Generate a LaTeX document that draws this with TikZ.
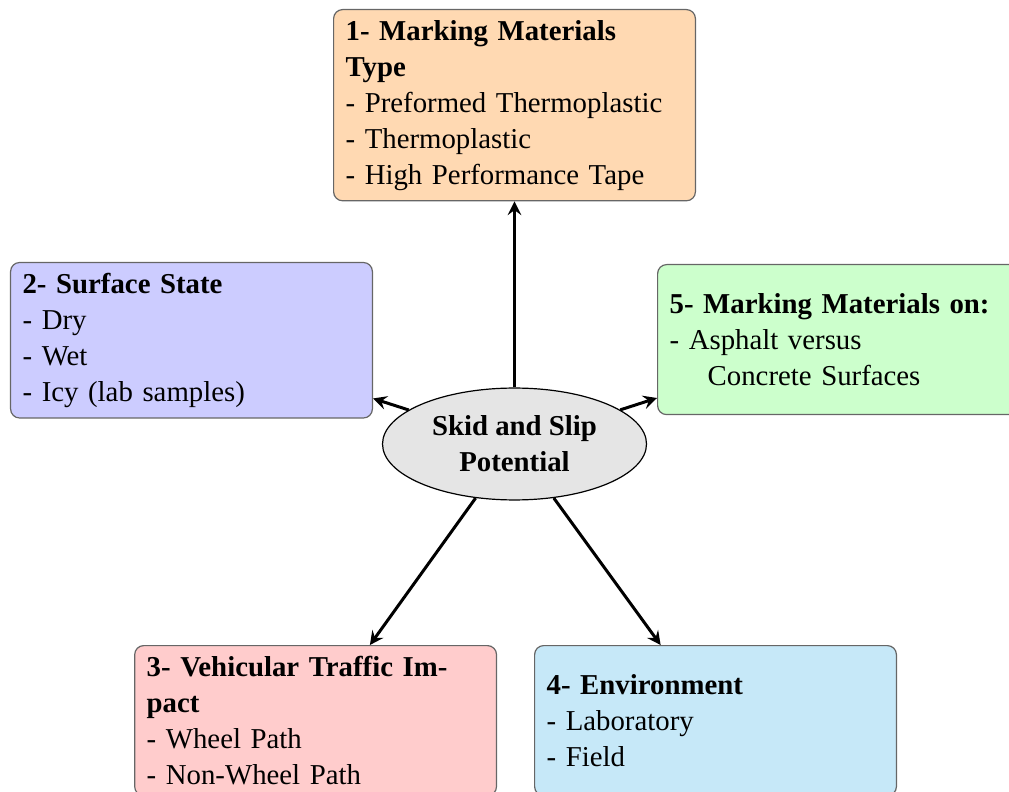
\documentclass[tikz,border=0pt]{standalone}
\usepackage{fontspec}
\setmainfont{Liberation Serif}
\usetikzlibrary{arrows}
\definecolor{envblue}{RGB}{198,232,248}
\tikzset{
    every node/.style={font=\fontsize{9.6pt}{12pt}\selectfont},
    factor/.style={draw=black!60, rounded corners=3pt, text width=112.6pt, inner xsep=4pt, inner ysep=3.5pt, align=left, anchor=north west, minimum height=50pt},
    hub/.style={ellipse, draw=black, fill=gray!20, minimum width=88pt, minimum height=37.3pt, align=center, font=\fontsize{9.6pt}{12pt}\selectfont\bfseries},
    link/.style={->, >=stealth, line width=1pt}
}
\usetikzlibrary{shapes.geometric}
\begin{document}
\begin{tikzpicture}[x=1pt, y=1pt]
        \useasboundingbox (0,0) rectangle (336.33,-263.67);
        \node[hub] (skid) at (171.5,-148) {Skid and Slip\\Potential};
        \node[factor, fill=orange!30] (type) at (111,-3) {\textbf{1- Marking Materials\\Type}\\- Preformed Thermoplastic\\- Thermoplastic\\- High Performance Tape};
        \node[factor, fill=blue!20] (surf) at (3.33,-87.3) {\textbf{2- Surface State}\\- Dry\\- Wet\\- Icy (lab samples)};
        \node[factor, fill=red!20] (traf) at (44.7,-215) {\textbf{3- Vehicular Traffic Im-\\pact}\\- Wheel Path\\- Non-Wheel Path};
        \node[factor, fill=envblue] (env) at (178,-215) {\textbf{4- Environment}\\- Laboratory\\- Field};
        \node[factor, fill=green!20] (pave) at (219,-88) {\textbf{5- Marking Materials on:}\\- Asphalt versus\\\hspace*{12.7pt}Concrete Surfaces};
        \draw[link] (skid) -- (type);
        \draw[link] (skid) -- (surf);
        \draw[link] (skid) -- (traf);
        \draw[link] (skid) -- (env);
        \draw[link] (skid) -- (pave);
    \end{tikzpicture}
\end{document}
